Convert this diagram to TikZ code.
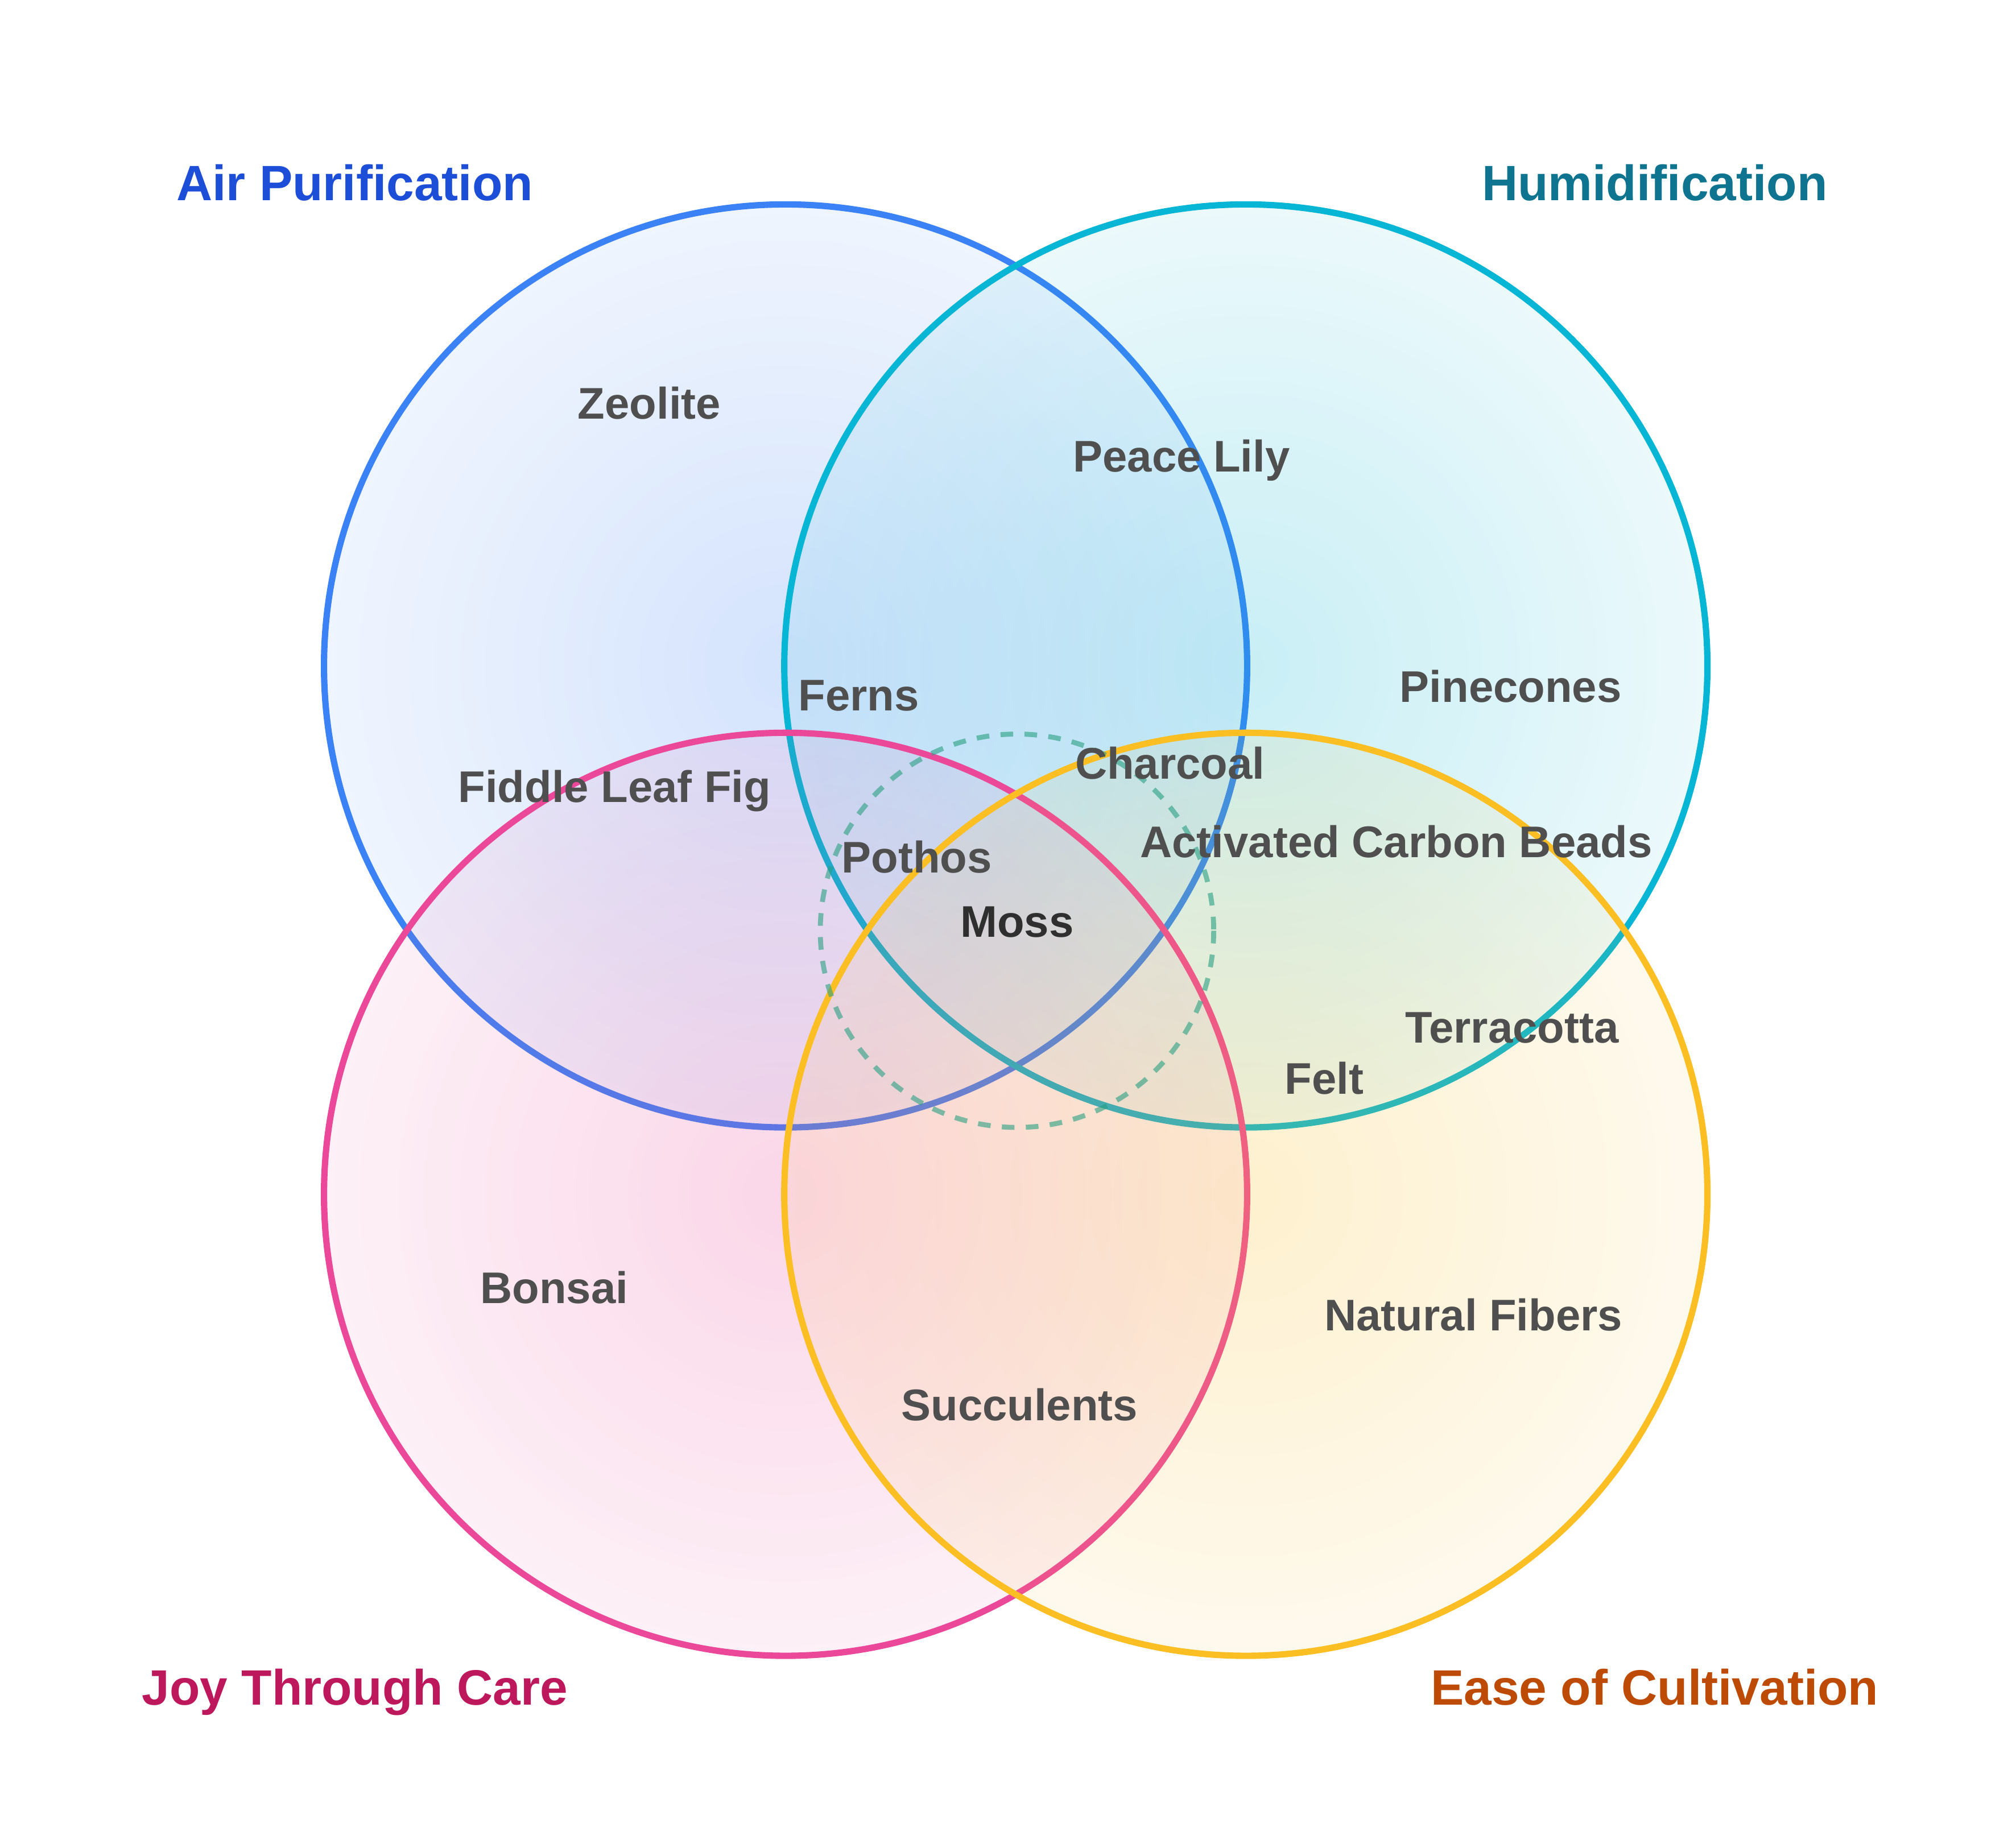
\documentclass[tikz,border=0pt]{standalone}
\usepackage{fontspec}
\setmainfont{Liberation Sans}
\usetikzlibrary{fadings}
\definecolor{airblue}{HTML}{3B82F6}
\definecolor{humcyan}{HTML}{06B6D4}
\definecolor{joypink}{HTML}{EC4899}
\definecolor{easeamber}{HTML}{FBBF24}
\definecolor{coreteal}{RGB}{40,160,130}
\definecolor{airtext}{HTML}{1D4ED8}
\definecolor{humtext}{HTML}{0E7490}
\definecolor{joytext}{HTML}{BE185D}
\definecolor{easetext}{RGB}{190,75,5}
\definecolor{itemgray}{HTML}{4F4F4F}
\definecolor{mossgray}{HTML}{2F2F2F}
\tikzfading[name=vennfade, inner color=transparent!0, outer color=transparent!65]

\begin{document}
\begin{tikzpicture}[x=0.01cm, y=-0.01cm, line width=1.4pt,
    setfill/.style={fill=#1, fill opacity=0.22, path fading=vennfade},
    setline/.style={draw=#1},
    coreline/.style={draw=coreteal, draw opacity=0.6, line width=1.1pt, dash pattern=on 2.8pt off 2.5pt},
    item/.style={anchor=base, text=itemgray, font=\bfseries\fontsize{9.8}{12}\selectfont},
    settitle/.style={anchor=base, text=#1, font=\bfseries\fontsize{11}{13}\selectfont}]
  \fill[white] (0,0) rectangle (1568,1434);
  \coordinate (air) at (611,518);
  \coordinate (hum) at (969,518);
  \coordinate (joy) at (611,929);
  \coordinate (ease) at (969,929);
  \coordinate (core) at (791,724);
  \fill[setfill=airblue] (air) circle (359);
  \draw[setline=airblue] (air) circle (359);
  \fill[setfill=humcyan] (hum) circle (359);
  \draw[setline=humcyan] (hum) circle (359);
  \fill[setfill=joypink] (joy) circle (359);
  \draw[setline=joypink] (joy) circle (359);
  \fill[setfill=easeamber] (ease) circle (359);
  \draw[setline=easeamber] (ease) circle (359);
  \draw[coreline] (core) circle (153);
  \node[settitle=airtext] (airlabel) at (276,156) {Air Purification};
  \node[settitle=humtext] (humlabel) at (1287,156) {Humidification};
  \node[settitle=joytext] (joylabel) at (276,1326) {Joy Through Care};
  \node[settitle=easetext] (easelabel) at (1287,1326) {Ease of Cultivation};
  \node[item] (zeolite) at (505,326) {Zeolite};
  \node[item] (peacelily) at (919,367) {Peace Lily};
  \node[item] (pinecones) at (1175,546) {Pinecones};
  \node[item] (ferns) at (668,553) {Ferns};
  \node[item] (charcoal) at (910,606) {Charcoal};
  \node[item] (fiddle) at (478,624) {Fiddle Leaf Fig};
  \node[item] (pothos) at (713,679) {Pothos};
  \node[item] (beads) at (1086,667) {Activated Carbon Beads};
  \node[item, text=mossgray] (moss) at (791,729) {Moss};
  \node[item] (terracotta) at (1176,811) {Terracotta};
  \node[item] (felt) at (1030,851) {Felt};
  \node[item] (bonsai) at (431,1014) {Bonsai};
  \node[item] (fibers) at (1146,1035) {Natural Fibers};
  \node[item] (succulents) at (793,1105) {Succulents};
\end{tikzpicture}
\end{document}
